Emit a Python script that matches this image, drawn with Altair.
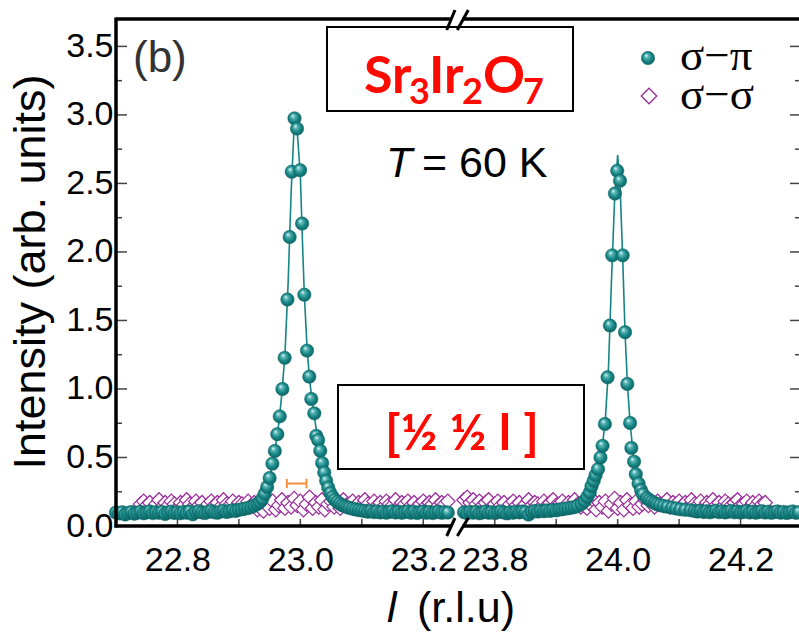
import altair as alt
import pandas as pd

# ---------------- data ----------------
# sigma-pi, left panel
sp_l_left = [22.700, 22.705, 22.710, 22.715, 22.720, 22.725, 22.730, 22.735, 22.740, 22.745,
             22.750, 22.755, 22.760, 22.765, 22.770, 22.775, 22.780, 22.785, 22.790, 22.795,
             22.800, 22.805, 22.810, 22.815, 22.820, 22.825, 22.830, 22.835, 22.840, 22.845,
             22.850, 22.855, 22.860, 22.865, 22.870, 22.875, 22.880, 22.885, 22.890, 22.895,
             22.900, 22.905, 22.910, 22.915, 22.920, 22.925,
             22.930, 22.934, 22.938, 22.942, 22.946, 22.950, 22.9545, 22.9585, 22.9625, 22.9665,
             22.9708, 22.9745, 22.979, 22.9826, 22.986, 22.9905, 22.9946, 22.9995, 23.0028, 23.0065,
             23.0109, 23.0146, 23.0178, 23.0227, 23.0259, 23.029, 23.0324, 23.0355, 23.0389, 23.042,
             23.0455, 23.049, 23.0525, 23.056, 23.060, 23.064, 23.068, 23.072, 23.076, 23.080,
             23.085, 23.090, 23.095, 23.100,
             23.105, 23.110, 23.115, 23.120, 23.125, 23.130, 23.135, 23.140, 23.145, 23.150,
             23.155, 23.160, 23.165, 23.170, 23.175, 23.180, 23.185, 23.190, 23.195, 23.200,
             23.205, 23.210, 23.215, 23.220, 23.225, 23.230, 23.235, 23.240]
sp_i_left = [0.098, 0.092, 0.100, 0.084, 0.095, 0.102, 0.090, 0.097, 0.104, 0.093,
             0.099, 0.106, 0.094, 0.101, 0.096, 0.103, 0.088, 0.098, 0.105, 0.095,
             0.100, 0.093, 0.102, 0.097, 0.106, 0.085, 0.101, 0.108, 0.099, 0.094,
             0.103, 0.110, 0.100, 0.096, 0.105, 0.112, 0.102, 0.108, 0.115, 0.110,
             0.118, 0.122, 0.127, 0.131, 0.138, 0.148,
             0.160, 0.175, 0.198, 0.235, 0.285, 0.350, 0.455, 0.548, 0.670, 0.800,
             1.000, 1.227, 1.653, 2.109, 2.585, 2.975, 2.900, 2.597, 2.207, 1.688,
             1.280, 1.090, 0.927, 0.822, 0.658, 0.627, 0.549, 0.460, 0.390, 0.330,
             0.280, 0.240, 0.212, 0.192, 0.176, 0.163, 0.152, 0.145, 0.138, 0.132,
             0.126, 0.121, 0.117, 0.113,
             0.109, 0.104, 0.110, 0.101, 0.107, 0.099, 0.105, 0.097, 0.103, 0.108,
             0.098, 0.104, 0.096, 0.102, 0.107, 0.097, 0.103, 0.095, 0.101, 0.106,
             0.096, 0.102, 0.094, 0.100, 0.105, 0.096, 0.101, 0.098]

# sigma-pi, right panel
sp_l_right = [23.750, 23.755, 23.760, 23.765, 23.770, 23.775, 23.780, 23.785, 23.790, 23.795,
              23.800, 23.805, 23.810, 23.815, 23.820, 23.825, 23.830, 23.835, 23.840, 23.845,
              23.850, 23.855, 23.860, 23.865, 23.870, 23.875, 23.880, 23.885, 23.890, 23.895,
              23.900, 23.905, 23.910, 23.915, 23.920, 23.925,
              23.930, 23.935, 23.941, 23.946, 23.9505, 23.9546, 23.9574, 23.961, 23.964, 23.968,
              23.972, 23.9754, 23.9792, 23.9836, 23.9874, 23.9911, 23.9956, 23.9993, 24.0038, 24.0082,
              24.012, 24.0157, 24.0202, 24.0222, 24.0267, 24.0295, 24.034, 24.038, 24.041, 24.0475,
              24.0515, 24.0557, 24.060, 24.064, 24.069, 24.0748, 24.081, 24.0885, 24.095, 24.102,
              24.110, 24.1185,
              24.125, 24.130, 24.135, 24.140, 24.145, 24.150, 24.155, 24.160, 24.165, 24.170,
              24.175, 24.180, 24.185, 24.190, 24.195, 24.200, 24.205, 24.210, 24.215, 24.220,
              24.225, 24.230, 24.235, 24.240, 24.245, 24.250, 24.255, 24.260, 24.265, 24.270,
              24.275, 24.280, 24.285, 24.290, 24.295]
sp_i_right = [0.100, 0.095, 0.102, 0.097, 0.104, 0.093, 0.099, 0.106, 0.096, 0.101,
              0.094, 0.100, 0.107, 0.098, 0.092, 0.101, 0.097, 0.104, 0.099, 0.106,
              0.101, 0.083, 0.103, 0.110, 0.105, 0.112, 0.108, 0.114, 0.110, 0.117,
              0.114, 0.120, 0.122, 0.127, 0.130, 0.134,
              0.138, 0.146, 0.160, 0.182, 0.212, 0.244, 0.290, 0.330, 0.370, 0.415,
              0.500, 0.585, 0.744, 1.085, 1.463, 1.975, 2.426, 2.592, 2.519, 1.975,
              1.414, 1.037, 0.752, 0.570, 0.470, 0.378, 0.310, 0.262, 0.232, 0.203,
              0.190, 0.178, 0.168, 0.159, 0.152, 0.146, 0.140, 0.134, 0.128, 0.122,
              0.118, 0.115,
              0.110, 0.105, 0.111, 0.102, 0.108, 0.100, 0.106, 0.112, 0.101, 0.107,
              0.099, 0.104, 0.110, 0.100, 0.106, 0.098, 0.103, 0.109, 0.099, 0.105,
              0.097, 0.102, 0.108, 0.098, 0.104, 0.096, 0.101, 0.107, 0.097, 0.103,
              0.095, 0.100, 0.106, 0.096, 0.101]

# sigma-sigma, left panel
ss_l_left = [22.740, 22.745, 22.750, 22.755, 22.760, 22.765, 22.770, 22.775, 22.780, 22.785,
             22.790, 22.795, 22.800, 22.805, 22.810, 22.815, 22.820, 22.825, 22.830, 22.835,
             22.840, 22.845, 22.850, 22.855, 22.860, 22.865, 22.870, 22.875, 22.880, 22.885,
             22.890, 22.895, 22.900, 22.905, 22.910, 22.915, 22.920, 22.925, 22.930, 22.935,
             22.940, 22.945, 22.950, 22.955, 22.960, 22.965, 22.970, 22.975, 22.980, 22.985,
             22.990, 22.995, 23.000, 23.005, 23.010, 23.015, 23.020, 23.025, 23.030, 23.035,
             23.040, 23.045, 23.050, 23.055, 23.060, 23.065, 23.070, 23.075, 23.080, 23.085,
             23.090, 23.095, 23.100, 23.105, 23.110, 23.115, 23.120, 23.125, 23.130, 23.135,
             23.140, 23.145, 23.150, 23.155, 23.160, 23.165, 23.170, 23.175, 23.180, 23.185,
             23.190, 23.195, 23.200, 23.205, 23.210, 23.215, 23.220, 23.225, 23.230, 23.235,
             23.240]
ss_i_left = [0.16, 0.18, 0.15, 0.17, 0.13, 0.16, 0.19, 0.14, 0.17, 0.15,
             0.18, 0.16, 0.13, 0.17, 0.15, 0.19, 0.16, 0.14, 0.18, 0.15,
             0.17, 0.13, 0.16, 0.18, 0.15, 0.17, 0.14, 0.19, 0.16, 0.15,
             0.18, 0.14, 0.17, 0.16, 0.13, 0.18, 0.15, 0.17, 0.12, 0.15,
             0.11, 0.16, 0.13, 0.18, 0.12, 0.15, 0.19, 0.13, 0.17, 0.14,
             0.20, 0.15, 0.18, 0.12, 0.16, 0.21, 0.13, 0.17, 0.14, 0.19,
             0.12, 0.16, 0.18, 0.14, 0.17, 0.13, 0.19, 0.15, 0.16, 0.18,
             0.14, 0.17, 0.15, 0.19, 0.16, 0.13, 0.18, 0.15, 0.17, 0.14,
             0.18, 0.16, 0.15, 0.19, 0.14, 0.17, 0.16, 0.18, 0.15, 0.17,
             0.14, 0.16, 0.18, 0.15, 0.17, 0.16, 0.19, 0.15, 0.17, 0.16,
             0.18]

# sigma-sigma, right panel
ss_l_right = [23.750, 23.755, 23.760, 23.765, 23.770, 23.775, 23.780, 23.785, 23.790, 23.795,
              23.800, 23.805, 23.810, 23.815, 23.820, 23.825, 23.830, 23.835, 23.840, 23.845,
              23.850, 23.855, 23.860, 23.865, 23.870, 23.875, 23.880, 23.885, 23.890, 23.895,
              23.900, 23.905, 23.910, 23.915, 23.920, 23.925, 23.930, 23.935, 23.940, 23.945,
              23.950, 23.955, 23.960, 23.965, 23.970, 23.975, 23.980, 23.985, 23.990, 23.995,
              24.000, 24.005, 24.010, 24.015, 24.020, 24.025, 24.030, 24.035, 24.040, 24.045,
              24.050, 24.055, 24.060, 24.065, 24.070, 24.075, 24.080, 24.085, 24.090, 24.095,
              24.100, 24.105, 24.110, 24.115, 24.120, 24.125, 24.130, 24.135, 24.140, 24.145,
              24.150, 24.155, 24.160, 24.165, 24.170, 24.175, 24.180, 24.185, 24.190, 24.195,
              24.200, 24.205, 24.210, 24.215, 24.220, 24.225, 24.230, 24.235, 24.240]
ss_i_right = [0.19, 0.21, 0.17, 0.19, 0.16, 0.18, 0.15, 0.17, 0.19, 0.14,
              0.16, 0.18, 0.15, 0.17, 0.13, 0.16, 0.18, 0.15, 0.17, 0.14,
              0.16, 0.19, 0.15, 0.17, 0.16, 0.14, 0.18, 0.15, 0.17, 0.19,
              0.15, 0.16, 0.18, 0.14, 0.17, 0.15, 0.19, 0.16, 0.14, 0.18,
              0.13, 0.16, 0.19, 0.12, 0.17, 0.14, 0.18, 0.11, 0.16, 0.20,
              0.13, 0.17, 0.12, 0.19, 0.15, 0.13, 0.18, 0.14, 0.16, 0.19,
              0.15, 0.17, 0.14, 0.18, 0.16, 0.15, 0.19, 0.14, 0.17, 0.16,
              0.18, 0.15, 0.17, 0.14, 0.19, 0.16, 0.15, 0.18, 0.14, 0.17,
              0.16, 0.19, 0.15, 0.17, 0.14, 0.18, 0.16, 0.15, 0.17, 0.19,
              0.15, 0.16, 0.18, 0.14, 0.17, 0.15, 0.18, 0.16, 0.17]

# fitted curves
fit_l_left = [22.700, 22.800, 22.880, 22.900, 22.920, 22.930, 22.940, 22.950, 22.955, 22.960,
              22.965, 22.970, 22.975, 22.980, 22.985, 22.9905, 22.9946, 23.000, 23.004, 23.0065,
              23.0109, 23.015, 23.020, 23.025, 23.030, 23.035, 23.040, 23.045, 23.050, 23.060,
              23.070, 23.080, 23.100, 23.150, 23.240]
fit_i_left = [0.098, 0.100, 0.108, 0.118, 0.138, 0.160, 0.215, 0.350, 0.455, 0.590,
              0.750, 0.970, 1.260, 1.760, 2.430, 2.975, 2.900, 2.560, 2.000, 1.690,
              1.300, 1.070, 0.880, 0.730, 0.600, 0.470, 0.370, 0.290, 0.235, 0.178,
              0.150, 0.133, 0.113, 0.104, 0.100]
fit_l_right = [23.750, 23.850, 23.900, 23.920, 23.935, 23.945, 23.955, 23.960, 23.965, 23.970,
               23.975, 23.980, 23.985, 23.990, 23.995, 24.000, 24.004, 24.008, 24.012, 24.016,
               24.020, 24.025, 24.030, 24.035, 24.040, 24.050, 24.060, 24.075, 24.100, 24.150,
               24.295]
fit_i_right = [0.100, 0.104, 0.114, 0.130, 0.148, 0.178, 0.250, 0.315, 0.385, 0.460,
               0.580, 0.780, 1.150, 1.800, 2.380, 2.707, 2.480, 1.975, 1.414, 1.020,
               0.770, 0.530, 0.380, 0.300, 0.245, 0.195, 0.168, 0.146, 0.123, 0.104,
               0.100]

# instrument resolution bar
res_l = [22.978, 23.010]
res_i = [0.31]

# axis ticks
x_tick_labels = [22.8, 23.0, 23.2, 23.8, 24.0, 24.2]
x_minor = [22.9, 23.1, 23.9, 24.1]
y_tick_labels = [0.0, 0.5, 1.0, 1.5, 2.0, 2.5, 3.0, 3.5]
y_minor = [0.25, 0.75, 1.25, 1.75, 2.25, 2.75, 3.25]

# ---------------- broken-axis mapping ----------------
SHIFT = 0.4836        # right segment moved left by this amount


def to_xp(v):
    return v - SHIFT if v > 23.5 else v


W, H = 683, 507
xs = alt.Scale(domain=[22.7, 23.8115], nice=False, zero=False)
ys = alt.Scale(domain=[0.0, 3.7], nice=False, zero=False)

TEAL = "#168585"
PURPLE = "#9a2c9a"
ORANGE = "#f5913e"
RED = "#ff0a00"
SANS = "Liberation Sans"
LAB = 34

X_AXIS = alt.Axis(values=[to_xp(v) for v in x_tick_labels],
                  labelExpr="datum.value > 23.25 ? format(datum.value + 0.4836, '.1f') : format(datum.value, '.1f')",
                  ticks=False, domain=False, grid=False, title=None, labelPadding=17,
                  labelFontSize=LAB, labelFont=SANS, labelColor="black", labelFlush=False,
                  labelOverlap=False)
Y_AXIS = alt.Axis(values=y_tick_labels, format=".1f", ticks=False, domain=False, grid=False,
                  title=None, labelPadding=3, labelFontSize=LAB, labelFont=SANS,
                  labelColor="black", labelFlush=False, labelOverlap=False)


def X(f):
    return alt.X(f, scale=xs, axis=X_AXIS)


def Y(f):
    return alt.Y(f, scale=ys, axis=Y_AXIS)


SPHERE = alt.RadialGradient(
    gradient="radial", x1=0.36, y1=0.3, r1=0.0, x2=0.5, y2=0.5, r2=0.58,
    stops=[alt.GradientStop(offset=0.0, color="#f2ffff"),
           alt.GradientStop(offset=0.25, color="#5cb6b6"),
           alt.GradientStop(offset=0.6, color="#168585"),
           alt.GradientStop(offset=1.0, color="#0b5a5a")])


def frame(lst_l, lst_i, seg):
    d = pd.DataFrame({"l": lst_l, "I": lst_i})
    d["xp"] = d["l"].map(to_xp)
    d["seg"] = seg
    return d


sp = pd.concat([frame(sp_l_left, sp_i_left, "a"), frame(sp_l_right, sp_i_right, "b")])
ss = pd.concat([frame(ss_l_left, ss_i_left, "a"), frame(ss_l_right, ss_i_right, "b")])
fit = pd.concat([frame(fit_l_left, fit_i_left, "a"), frame(fit_l_right, fit_i_right, "b")])

one = pd.DataFrame({"k": [0]})

layers = []

# sigma-sigma diamonds (white filled, purple outline)
layers.append(alt.Chart(ss).mark_point(shape="diamond", filled=True, fill="white", stroke=PURPLE,
                                       strokeWidth=1.2, size=210, opacity=1).encode(
    x=X("xp:Q"), y=Y("I:Q")))

# fit line
layers.append(alt.Chart(fit).mark_line(color=TEAL, strokeWidth=1.6).encode(
    x=X("xp:Q"), y=Y("I:Q"), detail="seg:N"))

# sigma-pi spheres
layers.append(alt.Chart(sp).mark_point(shape="circle", filled=True, fill=SPHERE, stroke="#0c6464",
                                       strokeWidth=0.5, size=180, opacity=1).encode(
    x=X("xp:Q"), y=Y("I:Q")))

# resolution bar
res = pd.DataFrame({"xp": [res_l[0]], "b": [res_l[1]], "I": res_i})
layers.append(alt.Chart(res).mark_rule(color=ORANGE, strokeWidth=2).encode(
    x=X("xp:Q"), x2="b:Q", y=Y("I:Q")))
caps = pd.DataFrame({"xp": res_l, "I": [res_i[0] - 0.034] * 2, "y1": [res_i[0] + 0.034] * 2})
layers.append(alt.Chart(caps).mark_rule(color=ORANGE, strokeWidth=2).encode(
    x=X("xp:Q"), y=Y("I:Q"), y2="y1:Q"))

# inward ticks
xt = pd.DataFrame({"xp": [to_xp(v) for v in x_tick_labels + x_minor]})
layers.append(alt.Chart(xt).mark_rule(color="#444444", strokeWidth=1.5).encode(
    x=X("xp:Q"), y=alt.value(H), y2=alt.value(H - 7)))
ytm = pd.DataFrame({"I": y_tick_labels[1:]})
ytn = pd.DataFrame({"I": y_minor})
for d, ln in ((ytm, 11), (ytn, 6)):
    layers.append(alt.Chart(d).mark_rule(color="#444444", strokeWidth=1.5).encode(
        y=Y("I:Q"), x=alt.value(0), x2=alt.value(ln)))
    layers.append(alt.Chart(d).mark_rule(color="#444444", strokeWidth=1.5).encode(
        y=Y("I:Q"), x=alt.value(W - ln + 2), x2=alt.value(W)))

# frame (left, top, bottom)
for enc in (dict(x=alt.value(0), y=alt.value(-1.5), y2=alt.value(H + 1.5)),
            dict(x=alt.value(0), x2=alt.value(W), y=alt.value(0)),
            dict(x=alt.value(-1.5), x2=alt.value(W), y=alt.value(H))):
    layers.append(alt.Chart(one).mark_rule(color="black", strokeWidth=3.5).encode(**enc))

# axis break
brk = pd.DataFrame({"xp": [23.2455], "b": [23.2638]})
for yy in (0, H):
    layers.append(alt.Chart(brk).mark_rule(color="white", strokeWidth=7).encode(
        x=X("xp:Q"), x2="b:Q", y=alt.value(yy)))
slash = pd.DataFrame({"xp": [23.2382, 23.2554], "b": [23.2517, 23.2733]})
for y0, y1 in ((11, -9), (H + 10, H - 8)):
    layers.append(alt.Chart(slash).mark_rule(color="black", strokeWidth=3).encode(
        x=X("xp:Q"), x2="b:Q", y=alt.value(y0), y2=alt.value(y1)))

# boxes
for x0, x1, y0, y1 in ((211, 457, 8, 92), (222, 468, 366, 450)):
    layers.append(alt.Chart(one).mark_rect(fillOpacity=0, stroke="black", strokeWidth=2).encode(
        x=alt.value(x0), x2=alt.value(x1), y=alt.value(y0), y2=alt.value(y1)))


def txt(s, x, y, size, font=SANS, color="black", weight="normal", style="normal",
        align="left", baseline="alphabetic", angle=0):
    return alt.Chart(pd.DataFrame({"t": [s]})).mark_text(
        font=font, fontSize=size, color=color, fontWeight=weight, fontStyle=style,
        align=align, baseline=baseline, angle=angle).encode(
        text="t:N", x=alt.value(x), y=alt.value(y))


layers += [
    txt("(b)", 17, 53, 44, color="#333333"),
    txt("Sr", 248, 74, 52, font="Lato", color=RED, weight="bold"),
    txt("3", 293, 85, 36, font="Lato", color=RED, weight="bold"),
    txt("Ir", 313, 74, 52, font="Lato", color=RED, weight="bold"),
    txt("2", 346, 85, 36, font="Lato", color=RED, weight="bold"),
    txt("O", 367, 74, 52, font="Lato", color=RED, weight="bold"),
    txt("7", 407, 85, 36, font="Lato", color=RED, weight="bold"),
    txt("T", 270, 158, 43, style="italic"),
    txt("= 60 K", 306, 158, 43),
    txt("[½ ½ l ]", 346, 431, 50, font="Lato", color=RED, weight="bold", align="center"),
    txt("σ−π", 564, 51, 45, font="Liberation Serif"),
    txt("σ−σ", 564, 90, 45, font="Liberation Serif"),
    txt("l", 271, 603, 43, style="italic"),
    txt("(r.l.u)", 301, 603, 43),
    txt("Intensity (arb. units)", -85, 253, 45, align="center", baseline="middle", angle=270),
]

# legend markers
layers.append(alt.Chart(one).mark_point(shape="circle", filled=True, fill=SPHERE, stroke="#0c6464",
                                        strokeWidth=0.5, size=178, opacity=1).encode(
    x=alt.value(532), y=alt.value(39)))
layers.append(alt.Chart(one).mark_point(shape="diamond", filled=True, fill="white", stroke=PURPLE,
                                        strokeWidth=1.3, size=240, opacity=1).encode(
    x=alt.value(533), y=alt.value(77)))

chart = alt.layer(*layers).properties(
    width=W, height=H,
    padding={"left": 116, "top": 19, "right": 0, "bottom": 110},
    autosize=alt.AutoSizeParams(type="none"),
    background="white",
).configure_view(stroke=None)

chart.save("out.html", embed_options={"renderer": "svg", "actions": False})
